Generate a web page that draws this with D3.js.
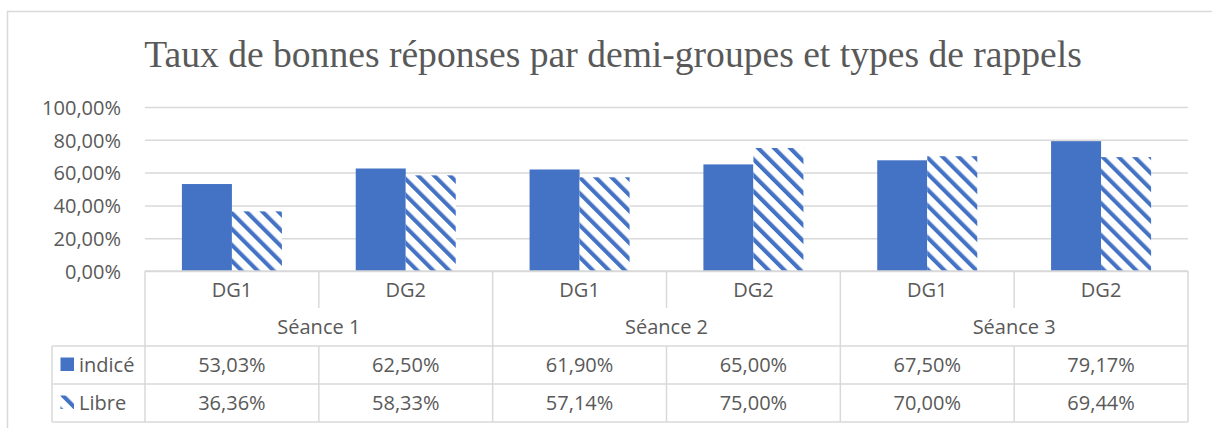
<!DOCTYPE html>
<html>
<head>
<meta charset="utf-8">
<script src="https://cdn.jsdelivr.net/npm/d3@7"></script>
<style>
  html, body { margin: 0; padding: 0; background: #ffffff; }
  svg { display: block; }
</style>
</head>
<body>
<div id="chart"></div>
<script>
// ---- data ----
const title = "Taux de bonnes réponses par demi-groupes et types de rappels";
const seances = ["Séance 1", "Séance 2", "Séance 3"];
const groups = ["DG1", "DG2"];
const seriesNames = ["indicé", "Libre"];
const indice = [53.03, 62.50, 61.90, 65.00, 67.50, 79.17];
const libre = [36.36, 58.33, 57.14, 75.00, 70.00, 69.44];
const yTicks = [0, 20, 40, 60, 80, 100];

(function () {
// ---- layout ----
const W = 1212, H = 428;
const pLeft = 145, pRight = 1188, pTop = 107, pBottom = 271;
const legendLeft = 52;
const rowDG = 290, rowSeance = 327, rowInd = 364.5, rowLib = 402.5;
const lineSeanceBottom = 346, lineRow1 = 384, lineRow2 = 422, dgSepBottom = 308;
const blue = "#4472C4", grid = "#d9d9d9", txt = "#595959";

const loc = d3.formatLocale({decimal: ",", thousands: " ", grouping: [3], currency: ["", "€"]});
const fmt = v => loc.format(".2f")(v) + "%";

const cats = [];
seances.forEach(s => groups.forEach(g => cats.push(s + "|" + g)));

const svg = d3.select("#chart").append("svg").attr("width", W).attr("height", H);
svg.append("rect").attr("width", W).attr("height", H).attr("fill", "#fff");

// pattern
const defs = svg.append("defs");
const pat = defs.append("pattern").attr("id", "hatch")
  .attr("patternUnits", "userSpaceOnUse").attr("width", 11.3).attr("height", 11.3)
  .attr("patternTransform", "rotate(-45)");
pat.append("rect").attr("width", 11.3).attr("height", 11.3).attr("fill", "#fff");
pat.append("rect").attr("width", 4.1).attr("height", 11.3).attr("fill", blue);

// outer frame
svg.append("path").attr("d", `M7.5,${H} V11.5 H${W}`).attr("fill", "none")
  .attr("stroke", grid).attr("stroke-width", 1.5);

// title
svg.append("text").attr("x", 613).attr("y", 67).attr("text-anchor", "middle")
  .attr("font-family", "'Liberation Serif', 'Times New Roman', serif")
  .attr("font-size", 37.6).attr("fill", txt).text(title);

// scales
const x0 = d3.scaleBand().domain(cats).range([pLeft, pRight]).padding(0);
const x1 = d3.scaleBand().domain(seriesNames).range([0, x0.bandwidth()]).paddingInner(0).paddingOuter(0.738);
const y = d3.scaleLinear().domain([0, 100]).range([pBottom, pTop]);

// gridlines
const gridAxis = d3.axisLeft(y).tickValues(yTicks).tickSize(-(pRight - pLeft)).tickFormat("");
const gg = svg.append("g").attr("transform", `translate(${pLeft},0)`).call(gridAxis);
gg.select(".domain").remove();
gg.selectAll(".tick line").attr("stroke", grid).attr("stroke-width", 1.5);

// y labels
const yAxis = d3.axisLeft(y).tickValues(yTicks).tickSize(0).tickPadding(0).tickFormat(v => fmt(v));
const ya = svg.append("g").attr("transform", `translate(121,0)`).call(yAxis);
ya.select(".domain").remove();
ya.selectAll("text").attr("font-family", "'Open Sans', sans-serif").attr("font-size", 20)
  .attr("fill", txt).attr("dy", "0.36em");

// bars
const seriesData = [indice, libre];
const fills = [blue, "url(#hatch)"];
seriesNames.forEach((name, si) => {
  svg.append("g").selectAll("rect").data(seriesData[si]).join("rect")
    .attr("x", (d, i) => x0(cats[i]) + x1(name))
    .attr("width", x1.bandwidth())
    .attr("y", d => y(d))
    .attr("height", d => y(0) - y(d))
    .attr("fill", fills[si]);
});

// table lines
const tl = svg.append("g").attr("stroke", grid).attr("stroke-width", 1.5).attr("fill", "none");
tl.append("line").attr("x1", pLeft).attr("x2", pRight).attr("y1", pBottom).attr("y2", pBottom);
[lineSeanceBottom, lineRow1, lineRow2].forEach(yy =>
  tl.append("line").attr("x1", legendLeft).attr("x2", pRight).attr("y1", yy).attr("y2", yy));
tl.append("line").attr("x1", legendLeft).attr("x2", legendLeft).attr("y1", lineSeanceBottom).attr("y2", lineRow2);
cats.forEach((c, i) => {
  const xx = x0(c);
  if (i % 2 === 0) {
    tl.append("line").attr("x1", xx).attr("x2", xx).attr("y1", pBottom).attr("y2", lineRow2);
  } else {
    tl.append("line").attr("x1", xx).attr("x2", xx).attr("y1", pBottom).attr("y2", dgSepBottom);
    tl.append("line").attr("x1", xx).attr("x2", xx).attr("y1", lineSeanceBottom).attr("y2", lineRow2);
  }
});
tl.append("line").attr("x1", pRight).attr("x2", pRight).attr("y1", pBottom).attr("y2", lineRow2);

// table text
const tt = svg.append("g").attr("font-family", "'Open Sans', sans-serif").attr("font-size", 20)
  .attr("fill", txt).attr("text-anchor", "middle");
cats.forEach((c, i) => {
  const cx = x0(c) + x0.bandwidth() / 2;
  tt.append("text").attr("x", cx).attr("y", rowDG).attr("dy", "0.36em").text(c.split("|")[1]);
  tt.append("text").attr("x", cx).attr("y", rowInd).attr("dy", "0.36em").text(fmt(indice[i]));
  tt.append("text").attr("x", cx).attr("y", rowLib).attr("dy", "0.36em").text(fmt(libre[i]));
});
seances.forEach((s, k) => {
  const cx = x0(cats[2 * k]) + x0.bandwidth();
  tt.append("text").attr("x", cx).attr("y", rowSeance).attr("dy", "0.36em").text(s);
});

// legend
const leg = svg.append("g");
[[rowInd, fills[0], seriesNames[0]], [rowLib, fills[1], seriesNames[1]]].forEach(([ry, f, n]) => {
  leg.append("rect").attr("x", 60.5).attr("y", ry - 7).attr("width", 13.5).attr("height", 13.5).attr("fill", f);
  leg.append("text").attr("x", 79).attr("y", ry).attr("dy", "0.36em")
    .attr("font-family", "'Open Sans', sans-serif").attr("font-size", 20).attr("fill", txt).text(n);
});
})();
</script>
</body>
</html>
